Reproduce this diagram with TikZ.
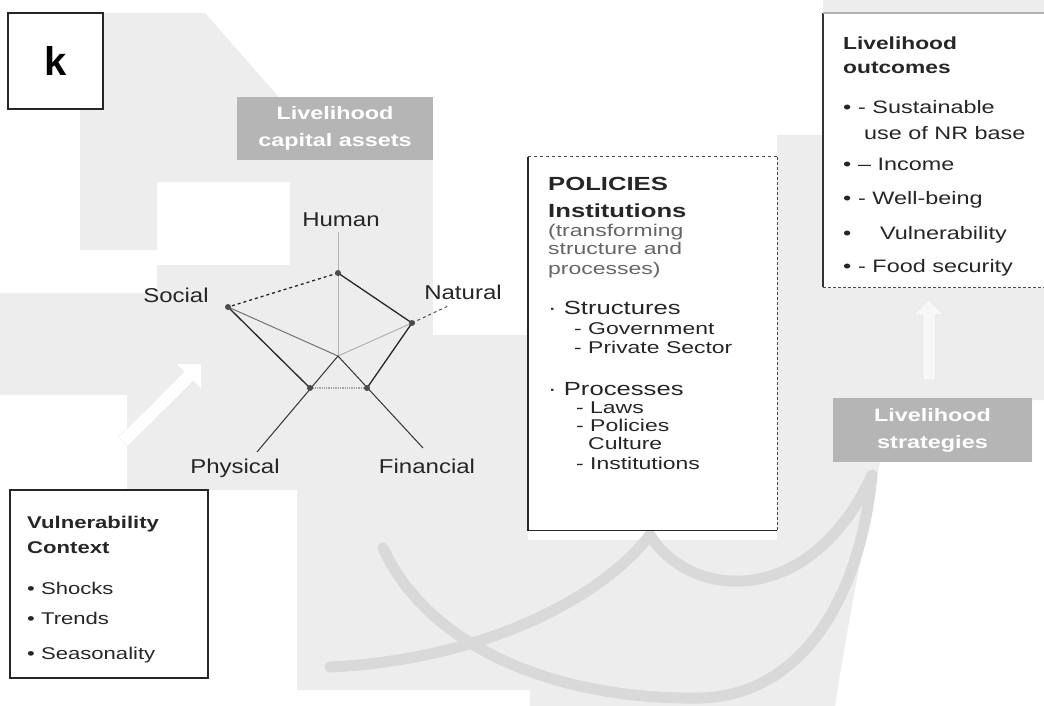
\documentclass[tikz,border=0pt]{standalone}
\usepackage{fontspec}
\setmainfont{Liberation Sans}
\newfontfamily\boxfont{Liberation Sans}[FakeStretch=1.3]
\newfontfamily\polfont{Liberation Sans}[FakeStretch=1.35]
\newfontfamily\labfont{Liberation Sans}[FakeStretch=1.2]
\usetikzlibrary{shapes.arrows}

\tikzset{
  bg/.style={fill=gray!14},
  band/.style={draw=gray!30, line width=11pt, line cap=round},
  darkbox/.style={fill=gray!58, text=white, font=\boxfont\bfseries\fontsize{18}{27}\selectfont,
    align=center, inner sep=0pt},
  txt/.style={anchor=base west, inner sep=0pt, text=black!85},
  axis/.style={line width=1pt},
  edge/.style={line width=1.3pt, draw=black!85},
  vtx/.style={circle, fill=black!70, inner sep=0pt, minimum size=6pt},
  spoke/.style={font=\labfont\fontsize{20}{24}\selectfont, text=black!85, inner sep=0pt},
}

\begin{document}
\begin{tikzpicture}[x=1pt,y=-1pt]
\useasboundingbox (0,0) rectangle (1044,706);
\fill[white] (0,0) rectangle (1044,706);

% light backdrop
\fill[bg] (103,13) -- (205,13) -- (290,110) -- (290,182) -- (157,182) -- (157,250)
  -- (80,250) -- (80,100) -- (103,100) -- cycle;
\fill[bg] (290,97) rectangle (433,335);
\fill[bg] (157,265) rectangle (290,300);
\fill[bg] (0,293) rectangle (433,395);
\fill[bg] (127,335) rectangle (528,490);
\fill[bg] (297,480) -- (528,480) -- (528,540) -- (777,540) -- (777,135) -- (823,135)
  -- (823,288) -- (1044,288) -- (1044,400) -- (1032,400) -- (1032,462) -- (880,462)
  .. controls (860,560) and (845,640) .. (835,706) -- (530,706) -- (530,690) -- (297,690) -- cycle;
\fill[bg] (823,0) rectangle (1044,13);

% curved feedback bands
\coordinate (bA) at (383,548);
\coordinate (bB) at (330,667);
\coordinate (bC) at (650,535);
\coordinate (bD) at (872,475);
\draw[band] (bA) .. controls (430,650) and (560,700) .. (700,698)
  .. controls (800,696) and (860,600) .. (bD);
\draw[band] (bB) .. controls (480,660) and (600,600) .. (bC);
\draw[band] (bC) .. controls (690,600) and (810,610) .. (bD);

% block arrows
\node[single arrow, rotate=45, minimum height=110pt, minimum width=36pt,
  single arrow head extend=6pt, fill=white, draw=gray!45, densely dotted] (vulnArrow) at (160,405) {};
\node[single arrow, rotate=90, minimum height=80pt, minimum width=30pt,
  single arrow head extend=5pt, fill=gray!6, draw=gray!40, densely dotted] (stratArrow) at (929,343) {};

% panel label
\node[draw=black!85, line width=1.2pt, fill=white, minimum width=95pt, minimum height=96pt,
  inner sep=0pt, font=\bfseries\fontsize{40}{40}\selectfont] (klabel) at (55.5,61) {k};

% dark title boxes
\node[darkbox, minimum width=196pt, minimum height=63pt] (assets) at (335,128.5)
  {Livelihood\\capital assets};
\node[darkbox, minimum width=199pt, minimum height=64pt] (strategies) at (932.5,430)
  {Livelihood\\strategies};

% pentagon of assets
\coordinate (ctr) at (338,356);
\coordinate (humEnd) at (338,232);
\coordinate (natEnd) at (448,306);
\coordinate (phyEnd) at (257,452);
\coordinate (finEnd) at (423,448);
\coordinate (hum) at (338,273);
\coordinate (nat) at (412,323);
\coordinate (soc) at (228,307);
\coordinate (phy) at (310,388);
\coordinate (fin) at (367,388);

\draw[axis, draw=gray!60] (ctr) -- (humEnd);
\draw[axis, draw=gray!60] (ctr) -- (nat);
\draw[axis, draw=black!70, dashed] (nat) -- (natEnd);
\draw[axis, draw=black!55] (ctr) -- (soc);
\draw[axis, draw=black!80] (ctr) -- (phyEnd);
\draw[axis, draw=black!80] (ctr) -- (finEnd);

\draw[edge] (hum) -- (nat);
\draw[edge, dashed] (hum) -- (soc);
\draw[edge] (soc) -- (phy);
\draw[edge, draw=gray!70, densely dotted] (phy) -- (fin);
\draw[edge] (fin) -- (nat);

\foreach \v in {hum,nat,soc,phy,fin} \node[vtx] (dot-\v) at (\v) {};

\node[spoke] (lHuman) at (341,220) {Human};
\node[spoke] (lNatural) at (463,292) {Natural};
\node[spoke] (lSocial) at (176,295) {Social};
\node[spoke] (lPhysical) at (235,468) {Physical};
\node[spoke] (lFinancial) at (427,466) {Financial};

% vulnerability context
\node[draw=black!85, line width=1.4pt, fill=white, minimum width=198pt, minimum height=188pt,
  inner sep=0pt] (vuln) at (109,584) {};
\begin{scope}[every node/.style={txt, font=\boxfont\fontsize{17}{20}\selectfont}]
\node[font=\boxfont\bfseries\fontsize{17}{20}\selectfont] (vT1) at (27,528) {Vulnerability};
\node[font=\boxfont\bfseries\fontsize{17}{20}\selectfont] (vT2) at (27,553) {Context};
\node (vB1) at (27,594) {• Shocks};
\node (vB2) at (27,624) {• Trends};
\node (vB3) at (27,659) {• Seasonality};
\end{scope}

% policies and institutions
\node[fill=white, minimum width=249pt, minimum height=373pt, inner sep=0pt] (pol) at (652.5,343.5) {};
\draw[line width=1.4pt, black!85] (pol.north west) -- (pol.south west) -- (pol.south east);
\draw[line width=1pt, black!70, dashed] (pol.north west) -- (pol.north east);
\draw[line width=1pt, black!70, densely dashed] (pol.north east) -- (pol.south east);
\begin{scope}[every node/.style={txt, font=\polfont\fontsize{17}{20}\selectfont}]
\node[font=\polfont\bfseries\fontsize{19}{22}\selectfont] (pT1) at (548,190) {POLICIES};
\node[font=\polfont\bfseries\fontsize{19}{22}\selectfont] (pT2) at (548,217) {Institutions};
\node[text=black!60] (pT3) at (548,236) {(transforming};
\node[text=black!60] (pT4) at (548,254) {structure and};
\node[text=black!60] (pT5) at (548,274) {processes)};
\node[font=\polfont\fontsize{19}{22}\selectfont] (pS) at (548,314) {· Structures};
\node (pS1) at (574,334) {- Government};
\node (pS2) at (574,353) {- Private Sector};
\node[font=\polfont\fontsize{19}{22}\selectfont] (pP) at (548,395) {· Processes};
\node (pP1) at (576,413) {- Laws};
\node (pP2) at (576,431) {- Policies};
\node (pP3) at (588,449) {Culture};
\node (pP4) at (576,469) {- Institutions};
\end{scope}

% livelihood outcomes
\node[fill=white, minimum width=221pt, minimum height=274pt, inner sep=0pt] (out) at (933.5,150) {};
\draw[line width=1.5pt, black!80] (out.north west) -- (out.south west);
\draw[line width=1.5pt, gray!60] (out.north west) -- (out.north east);
\draw[line width=1pt, black!70, densely dashed] (out.south west) -- (out.south east);
\begin{scope}[every node/.style={txt, font=\boxfont\fontsize{18}{22}\selectfont}]
\node[font=\boxfont\bfseries\fontsize{17.5}{20}\selectfont] (oT1) at (843,50) {Livelihood};
\node[font=\boxfont\bfseries\fontsize{17.5}{20}\selectfont] (oT2) at (843,74) {outcomes};
\node (oD1) at (843,114) {•};
\node (oB1) at (858,114) {- Sustainable};
\node (oB1b) at (864,140) {use of NR base};
\node (oD2) at (843,171) {•};
\node (oB2) at (858,171) {– Income};
\node (oD3) at (843,204) {•};
\node (oB3) at (858,204) {- Well-being};
\node (oD4) at (843,239) {•};
\node (oB4) at (880,239) {Vulnerability};
\node (oD5) at (843,272) {•};
\node (oB5) at (858,272) {- Food security};
\end{scope}

\end{tikzpicture}
\end{document}
